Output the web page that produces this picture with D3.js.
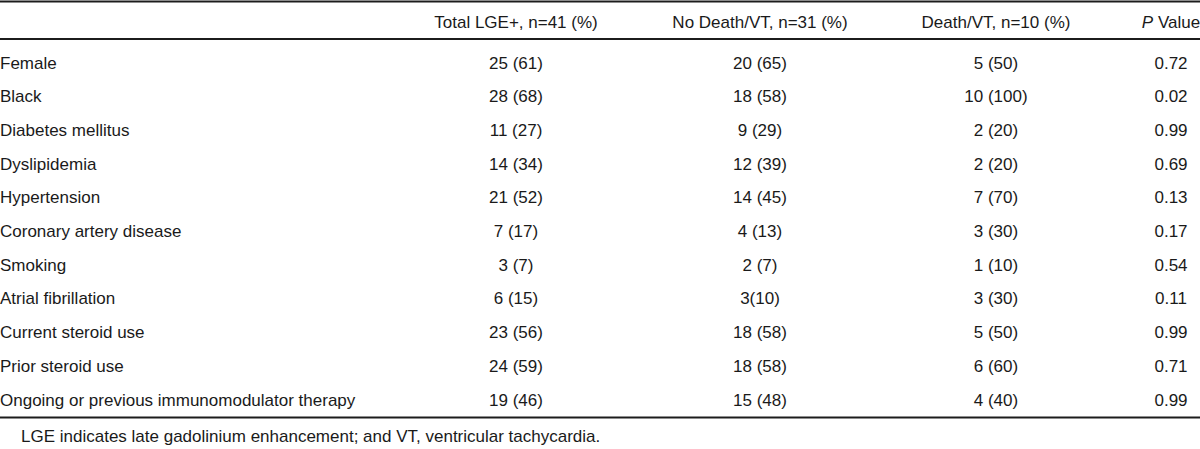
<!DOCTYPE html>
<html>
<head>
<meta charset="utf-8">
<script src="https://cdn.jsdelivr.net/npm/d3@7"></script>
<style>
  html, body { margin: 0; padding: 0; background: #fff; }
  svg { display: block; }
  text { font-family: "Liberation Sans", Arial, sans-serif; font-size: 17px; fill: #1a1a1a; }
</style>
</head>
<body>
<svg id="chart" width="1200" height="449"></svg>
<script>
const headers = ["", "Total LGE+, n=41 (%)", "No Death/VT, n=31 (%)", "Death/VT, n=10 (%)", "P Value"];
const rowLabels = [
  "Female", "Black", "Diabetes mellitus", "Dyslipidemia", "Hypertension",
  "Coronary artery disease", "Smoking", "Atrial fibrillation",
  "Current steroid use", "Prior steroid use", "Ongoing or previous immunomodulator therapy"
];
const totalLGE = ["25 (61)", "28 (68)", "11 (27)", "14 (34)", "21 (52)", "7 (17)", "3 (7)", "6 (15)", "23 (56)", "24 (59)", "19 (46)"];
const noDeathVT = ["20 (65)", "18 (58)", "9 (29)", "12 (39)", "14 (45)", "4 (13)", "2 (7)", "3(10)", "18 (58)", "18 (58)", "15 (48)"];
const deathVT = ["5 (50)", "10 (100)", "2 (20)", "2 (20)", "7 (70)", "3 (30)", "1 (10)", "3 (30)", "5 (50)", "6 (60)", "4 (40)"];
const pValues = ["0.72", "0.02", "0.99", "0.69", "0.13", "0.17", "0.54", "0.11", "0.99", "0.71", "0.99"];
const footnote = "LGE indicates late gadolinium enhancement; and VT, ventricular tachycardia.";

const W = 1200;
const svg = d3.select("#chart");

const colKeys = ["label", "total", "nodeath", "death", "p"];
const colX = d3.scaleOrdinal().domain(colKeys).range([0, 516, 760, 996, 1171]);
const y = d3.scalePoint().domain(rowLabels).range([68.5, 405.5]);

const rows = rowLabels.map((l, i) => ({
  label: l, total: totalLGE[i], nodeath: noDeathVT[i], death: deathVT[i], p: pValues[i]
}));

// rules
const rules = [1.5, 39, 417.5];
svg.selectAll("line.rule").data(rules).join("line")
  .attr("class", "rule")
  .attr("x1", 0).attr("x2", W)
  .attr("y1", d => d).attr("y2", d => d)
  .attr("stroke", "#1c1c1c").attr("stroke-width", 2.2);

// header
const hdr = svg.append("g").attr("class", "header");
colKeys.forEach((k, i) => {
  if (i === 0) return;
  const t = hdr.append("text")
    .attr("x", colX(k)).attr("y", 28)
    .attr("text-anchor", "middle");
  if (k === "p") {
    t.append("tspan").attr("font-style", "italic").text("P");
    t.append("tspan").text(" Value");
  } else {
    t.text(headers[i]);
  }
});

// body
const g = svg.append("g").attr("class", "body");
const rowG = g.selectAll("g.row").data(rows).join("g")
  .attr("class", "row")
  .attr("transform", d => `translate(0,${y(d.label)})`);

colKeys.forEach(k => {
  rowG.append("text")
    .attr("x", colX(k))
    .attr("text-anchor", k === "label" ? "start" : "middle")
    .text(d => d[k]);
});

// footnote
svg.append("text").attr("x", 21).attr("y", 442).text(footnote);
</script>
</body>
</html>
